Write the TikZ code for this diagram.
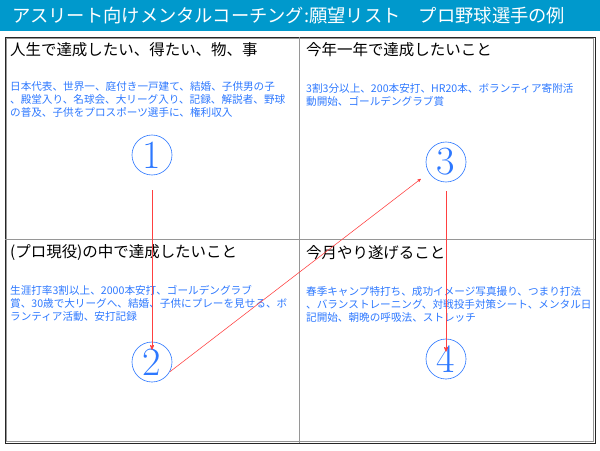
\documentclass[tikz,border=0pt]{standalone}
\usepackage{fontspec}
\newfontfamily\jpfont{Noto Sans CJK JP}
\usetikzlibrary{calc}
\usetikzlibrary{arrows}
\usepackage{xcolor}
\definecolor{titlebar}{RGB}{0,153,204}
\definecolor{wishblue}{RGB}{45,120,255}
\definecolor{gridgray}{RGB}{150,150,150}

\begin{document}
\begin{tikzpicture}[x=0.5mm, y=-0.5mm,
  heading/.style={anchor=west, inner sep=0, font=\jpfont\fontsize{22}{22}\selectfont},
  wish/.style={anchor=north west, inner sep=0, align=left, text=wishblue, font=\jpfont\fontsize{15.1}{18.5}\selectfont},
  goal/.style={circle, draw=wishblue, line width=0.9pt, minimum size=20mm, inner sep=0, text=wishblue, font=\fontsize{57}{57}\selectfont},
  goalarrow/.style={red!75, line width=0.8pt, ->, >=stealth'}]
\useasboundingbox (0,0) rectangle (600,450);
\fill[titlebar] (0,0) rectangle (600,31);
\node[anchor=west, inner sep=0, text=white, font=\jpfont\fontsize{26}{26}\selectfont] (title) at (12,16) {アスリート向けメンタルコーチング:願望リスト\quad プロ野球選手の例};
\draw[black!85, line width=1.2pt] (5,37) rectangle (595,443);
\draw[gridgray, line width=0.8pt] (6.5,38.5) rectangle (593.5,441.5);
\draw[gridgray, line width=1pt] (299,37) -- (299,443);
\draw[gridgray, line width=1pt] (5,239) -- (595,239);

\node[heading] (h1) at (10,50) {人生で達成したい、得たい、物、事};
\node[heading] (h2) at (306,50) {今年一年で達成したいこと};
\node[heading] (h3) at (10,253) {(プロ現役)の中で達成したいこと};
\node[heading] (h4) at (306,253) {今月やり遂げること};

\node[wish] (w1) at (10,81) {日本代表、世界一、庭付き一戸建て、結婚、子供男の子\\、殿堂入り、名球会、大リーグ入り、記録、解説者、野球\\の普及、子供をプロスポーツ選手に、権利収入};
\node[wish] (w2) at (306,83) {3割3分以上、200本安打、HR20本、ボランティア寄附活\\動開始、ゴールデングラブ賞};
\node[wish] (w3) at (10,285) {生涯打率3割以上、2000本安打、ゴールデングラブ\\賞、30歳で大リーグへ、結婚、子供にプレーを見せる、ボ\\ランティア活動、安打記録};
\node[wish] (w4) at (306,286) {春季キャンプ特打ち、成功イメージ写真撮り、つまり打法\\、バランストレーニング、対戦投手対策シート、メンタル日\\記開始、朝晩の呼吸法、ストレッチ};

\node[goal] (g1) at (152,155) {1};
\node[goal] (g2) at (152,362) {2};
\node[goal] (g3) at (446,162) {3};
\node[goal] (g4) at (446,359) {4};

\draw[goalarrow, line width=1.3pt, shorten <=7.5mm, shorten >=-4mm] (g1) -- (g2);
\draw[goalarrow, shorten >=5mm] (g2.-29) -- (g3.212);
\draw[goalarrow, line width=1.3pt, shorten <=4.5mm, shorten >=-6.5mm] (g3) -- (g4);
\end{tikzpicture}
\end{document}
